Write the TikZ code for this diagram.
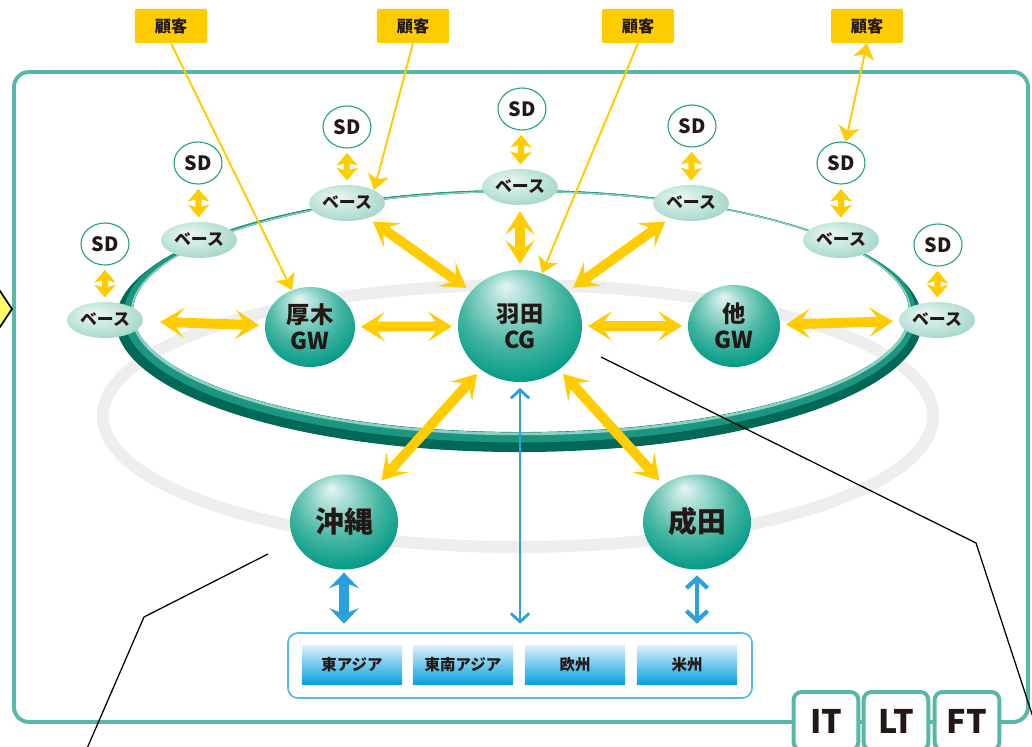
\documentclass[tikz,border=0pt]{standalone}
\usepackage{fontspec}
\setmainfont{Noto Sans CJK JP}
\usepackage{xcolor}
\usepackage{tikz}
\usetikzlibrary{shapes.geometric, arrows.meta}

\definecolor{rimteal}{RGB}{88,184,168}
\definecolor{gold}{RGB}{255,204,0}
\definecolor{sky}{RGB}{44,160,222}
\definecolor{skyline}{RGB}{84,184,232}
\definecolor{reghi}{RGB}{214,239,252}
\definecolor{regdk}{RGB}{10,160,224}
\definecolor{hubteal}{RGB}{0,154,134}
\definecolor{hubhi}{RGB}{228,246,241}
\definecolor{hubmid}{RGB}{70,182,162}
\definecolor{basehi}{RGB}{234,247,243}
\definecolor{basemd}{RGB}{190,227,218}
\definecolor{basedk}{RGB}{128,196,180}
\definecolor{sdline}{RGB}{40,160,140}
\definecolor{ringdk}{RGB}{0,104,86}
\definecolor{ringmd}{RGB}{28,150,128}
\definecolor{ringlt}{RGB}{140,210,195}
\definecolor{haze}{RGB}{238,238,238}
\definecolor{chev}{RGB}{255,255,102}
\definecolor{ink}{RGB}{35,24,21}

\pgfdeclareradialshading{hubball}{\pgfpoint{-6bp}{18bp}}{color(0bp)=(hubhi); color(7bp)=(hubhi!75!hubteal); color(20bp)=(hubmid); color(32bp)=(hubteal); color(50bp)=(hubteal)}
\pgfdeclareradialshading{baseball}{\pgfpoint{-8bp}{10bp}}{color(0bp)=(basehi); color(20bp)=(basemd); color(45bp)=(basedk); color(50bp)=(basedk)}

\begin{document}
\begin{tikzpicture}[
    x=0.025cm, y=-0.025cm,
    hub/.style={ellipse, shade, shading=hubball, text=ink, align=center, inner sep=0pt,
        font=\bfseries\fontsize{16.5}{18.5}\selectfont},
    bighub/.style={hub, font=\bfseries\fontsize{20.5}{22}\selectfont},
    basenode/.style={ellipse, shade, shading=baseball, text=ink, inner sep=0pt,
        minimum width=1.9cm, minimum height=0.9cm, font=\bfseries\fontsize{12}{12}\selectfont},
    sdnode/.style={ellipse, draw=sdline, line width=0.8pt, fill=white, text=ink, inner sep=0pt,
        minimum width=1.2cm, minimum height=1.05cm, font=\bfseries\fontsize{14}{14}\selectfont},
    cust/.style={fill=gold, rounded corners=1pt, text=ink, inner sep=0pt,
        minimum width=1.8cm, minimum height=0.85cm, font=\bfseries\fontsize{11.5}{12}\selectfont},
    regbox/.style={rectangle, top color=reghi, bottom color=regdk, text=ink, inner sep=0pt,
        minimum width=2.5cm, minimum height=0.95cm, font=\bfseries\fontsize{11}{12}\selectfont},
    tagbox/.style={draw=rimteal, line width=2.8pt, fill=white, rounded corners=0.2cm, text=ink,
        minimum width=1.62cm, minimum height=1.45cm, font=\bfseries\fontsize{23}{24}\selectfont},
    bigarr/.style={gold, line width=7pt, shorten <=4pt, shorten >=4pt,
        {Stealth[length=17pt,width=21pt,inset=8pt]}-{Stealth[length=17pt,width=21pt,inset=8pt]}},
    sdarr/.style={gold, line width=4.5pt, shorten <=3pt, shorten >=3pt,
        {Stealth[length=9pt,width=15pt,inset=2pt]}-{Stealth[length=9pt,width=15pt,inset=2pt]}},
    custarr/.style={gold, line width=1.4pt, -{Stealth[length=11pt,width=15pt,inset=3pt]}},
    bluethin/.style={sky, line width=2pt, shorten <=4pt, shorten >=6pt,
        {Straight Barb[length=6pt,width=13pt]}-{Straight Barb[length=6pt,width=13pt]}},
    bluefat/.style={sky, line width=7pt, shorten <=2pt, shorten >=6pt,
        {Stealth[length=11pt,width=21pt,inset=4pt]}-{Stealth[length=11pt,width=21pt,inset=4pt]}},
    bluemid/.style={sky, line width=3pt, shorten <=4pt, shorten >=6pt,
        {Straight Barb[length=7pt,width=15pt]}-{Straight Barb[length=7pt,width=15pt]}}
  ]
    \useasboundingbox (0,0) rectangle (1032,747);

    % 外枠
    \draw[rimteal, line width=2.8pt, rounded corners=0.375cm] (14,72) rectangle (1028,722);
    \filldraw[fill=chev, draw=black, line width=1.2pt] (-8,279) -- (12,309) -- (-8,339);  % 左の矢印

    % 灰色の輪
    \draw[haze, line width=8.5pt] (518,416) ellipse [x radius=10.375cm, y radius=3.275cm];

    % 緑の輪
    \fill[ringdk, even odd rule] (519,321) ellipse [x radius=10.075cm, y radius=3.275cm]
        (521,312) ellipse [x radius=9.7cm, y radius=3cm];
    \begin{scope}[even odd rule]
        \clip (519,321) ellipse [x radius=10.075cm, y radius=3.275cm]
            (521,312) ellipse [x radius=9.7cm, y radius=3cm];
        \draw[ringmd, line width=6pt] (520,315) ellipse [x radius=9.8cm, y radius=3.08cm];
        \draw[ringlt, line width=2pt] (521,313) ellipse [x radius=9.72cm, y radius=3.02cm];
    \end{scope}

    % 拠点
    \node[hub, minimum width=3.1cm, minimum height=2.8cm] (hnd) at (520,326) {羽田\\CG};  % 中心
    \node[hub, minimum width=2.25cm, minimum height=2cm] (atg) at (310,327) {厚木\\GW};
    \node[hub, minimum width=2.3cm, minimum height=2.05cm] (oth) at (734,326) {他\\GW};
    \node[bighub, minimum width=2.7cm, minimum height=2.375cm] (oki) at (344,522) {沖縄};
    \node[bighub, minimum width=2.7cm, minimum height=2.375cm] (nrt) at (697,522) {成田};

    % ベース
    \node[basenode] (b1) at (105,320) {ベース};
    \node[basenode] (b2) at (199,240) {ベース};
    \node[basenode] (b3) at (347,203) {ベース};
    \node[basenode] (b4) at (520,187) {ベース};
    \node[basenode] (b5) at (691,203) {ベース};
    \node[basenode] (b6) at (841,240) {ベース};
    \node[basenode] (b7) at (937,320) {ベース};

    % SD
    \node[sdnode] (sd1) at (105,244) {SD};
    \node[sdnode] (sd2) at (198,163) {SD};
    \node[sdnode] (sd3) at (347,127) {SD};
    \node[sdnode] (sd4) at (522,109) {SD};
    \node[sdnode] (sd5) at (692,126) {SD};
    \node[sdnode] (sd6) at (841,163) {SD};
    \node[sdnode] (sd7) at (938,245) {SD};

    % 顧客
    \node[cust] (cs1) at (171,26) {顧客};
    \node[cust] (cs2) at (413,26) {顧客};
    \node[cust] (cs3) at (638,26) {顧客};
    \node[cust] (cs4) at (867,26) {顧客};

    % 海外
    \node[draw=skyline, line width=1.2pt, fill=white, rounded corners=0.25cm,
        minimum width=11.6cm, minimum height=1.625cm] (reg) at (520,665.5) {};
    \node[regbox] (r1) at (352,665) {東アジア};
    \node[regbox] (r2) at (463,665) {東南アジア};
    \node[regbox] (r3) at (575,665) {欧州};
    \node[regbox] (r4) at (687,665) {米州};

    % IT LT FT
    \node[tagbox] (it) at (826,721) {IT};
    \node[tagbox] (lt) at (896,721) {LT};
    \node[tagbox] (ft) at (967,721) {FT};

    % 黄色の矢印
    \draw[bigarr, shorten <=12pt] (b1) -- (atg);
    \draw[bigarr] (atg) -- (hnd);
    \draw[bigarr] (hnd) -- (oth);
    \draw[bigarr] (oth) -- (b7);
    \draw[bigarr] (b3) -- (hnd);
    \draw[bigarr] (b4) -- (hnd);
    \draw[bigarr] (b5) -- (hnd);
    \draw[bigarr] (hnd) -- (oki);
    \draw[bigarr] (hnd) -- (nrt);

    \draw[sdarr] (sd1) -- (b1);
    \draw[sdarr] (sd2) -- (b2);
    \draw[sdarr] (sd3) -- (b3);
    \draw[sdarr] (sd4) -- (b4);
    \draw[sdarr] (sd5) -- (b5);
    \draw[sdarr] (sd6) -- (b6);
    \draw[sdarr] (sd7) -- (b7);

    \draw[custarr] (cs1.south) -- (atg);
    \draw[custarr] (cs2.south) -- (b3.north east);
    \draw[custarr] (cs3.south) -- (hnd);
    \draw[custarr, {Stealth[length=11pt,width=15pt,inset=3pt]}-{Stealth[length=11pt,width=15pt,inset=3pt]}] (cs4.south) -- (sd6);

    % 青の矢印
    \draw[bluethin] (hnd) -- (hnd |- reg.north);
    \draw[bluefat] (oki.south) -- (oki.south |- reg.north);
    \draw[bluemid] (nrt.south) -- (nrt.south |- reg.north);

    % 引出線
    \coordinate (ln1a) at (601,357);
    \coordinate (ln1b) at (976,543);
    \coordinate (ln1c) at (1047,760);
    \coordinate (ln2a) at (268,554);
    \coordinate (ln2b) at (144,617);
    \coordinate (ln2c) at (82,760);
    \draw[black, line width=0.9pt] (ln1a) -- (ln1b) -- (ln1c);
    \draw[black, line width=0.9pt] (ln2a) -- (ln2b) -- (ln2c);
\end{tikzpicture}
\end{document}
